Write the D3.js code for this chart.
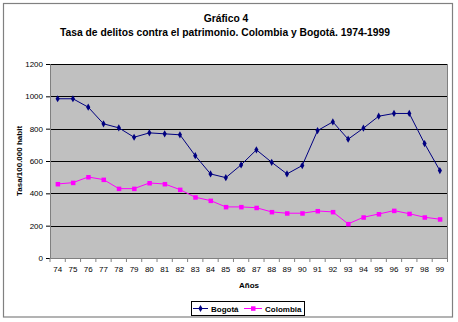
<!DOCTYPE html>
<html><head><meta charset="utf-8">
<script src="https://cdn.jsdelivr.net/npm/d3@7"></script>
<style>body{margin:0;background:#fff}svg{display:block;font-family:"Liberation Sans",Arial,sans-serif}</style>
</head><body><svg id="c" width="458" height="322"></svg>
<script>
const years = ["74","75","76","77","78","79","80","81","82","83","84","85","86","87","88","89","90","91","92","93","94","95","96","97","98","99"];
const bogota = [985,985,933,830,805,747,774,768,762,633,520,497,576,669,592,520,572,788,842,735,803,877,894,894,708,541];
const colombia = [458,466,501,485,429,429,464,458,423,376,355,316,316,311,285,277,277,291,285,211,252,272,293,274,252,240];
const yTicks = [0,200,400,600,800,1000,1200];
const titleLines = ["Gráfico 4","Tasa de delitos contra el patrimonio. Colombia y Bogotá. 1974-1999"];

const svg = d3.select("#c");
const L=50, R=447.5, T=64, B=258;
svg.append("rect").attr("x",3.5).attr("y",3.5).attr("width",449).attr("height",313.5).attr("fill","#fff").attr("stroke","#808080").attr("stroke-width",1.2);

const x = d3.scaleBand().domain(years).range([L,R]).padding(0);
const y = d3.scaleLinear().domain([0,1200]).range([B,T]);

svg.append("rect").attr("x",L).attr("y",T).attr("width",R-L).attr("height",B-T).attr("fill","#c0c0c0");
svg.append("g").selectAll("line").data(yTicks.filter(d=>d>0)).join("line")
  .attr("x1",L).attr("x2",R).attr("y1",d=>Math.round(y(d))+0.5).attr("y2",d=>Math.round(y(d))+0.5)
  .attr("stroke","#000").attr("stroke-width",1);
svg.append("line").attr("x1",R).attr("x2",R).attr("y1",T).attr("y2",B).attr("stroke","#808080");

// axes
const yAxis = d3.axisLeft(y).tickValues(yTicks).tickFormat(d3.format("d")).tickSize(4).tickPadding(3);
const gy = svg.append("g").attr("transform",`translate(${L},0)`).call(yAxis);
gy.selectAll("text").attr("font-size","8px").attr("fill","#000").attr("font-family","Liberation Sans, Arial, sans-serif");
gy.select(".domain").attr("stroke","#808080");

const xAxis = d3.axisBottom(x).tickSize(0).tickPadding(8);
const gx = svg.append("g").attr("transform",`translate(0,${B})`).call(xAxis);
gx.selectAll("text").attr("font-size","8px").attr("fill","#000").attr("font-family","Liberation Sans, Arial, sans-serif");
gx.select(".domain").attr("stroke","#808080");
const bounds = years.map(d=>x(d)).concat([R]);
gx.selectAll(".bt").data(bounds).join("line").attr("class","bt")
  .attr("x1",d=>d).attr("x2",d=>d).attr("y1",0).attr("y2",4).attr("stroke","#808080");

// lines
const line = d3.line().x((d,i)=>x(years[i])+x.bandwidth()/2).y(d=>y(d));
svg.append("path").datum(bogota).attr("d",line).attr("fill","none").attr("stroke","#000080").attr("stroke-width",1);
svg.append("path").datum(colombia).attr("d",line).attr("fill","none").attr("stroke","#ff00ff").attr("stroke-width",1);
const diamond = d3.symbol().type(d3.symbolDiamond).size(15);
svg.append("g").selectAll("path").data(bogota).join("path")
  .attr("d",diamond).attr("transform",(d,i)=>`translate(${x(years[i])+x.bandwidth()/2},${y(d)})`).attr("fill","#000080");
svg.append("g").selectAll("rect").data(colombia).join("rect")
  .attr("x",(d,i)=>x(years[i])+x.bandwidth()/2-2).attr("y",d=>y(d)-2).attr("width",4.5).attr("height",4.5).attr("fill","#ff00ff");

// titles
svg.append("text").attr("x",226).attr("y",22).attr("text-anchor","middle").attr("font-size","10.3px").attr("font-weight","bold").text(titleLines[0]);
svg.append("text").attr("x",225).attr("y",36).attr("text-anchor","middle").attr("font-size","10.3px").attr("font-weight","bold").text(titleLines[1]);
svg.append("text").attr("x",249).attr("y",288).attr("text-anchor","middle").attr("font-size","8px").attr("font-weight","bold").text("Años");
svg.append("text").attr("transform","translate(22,161) rotate(-90)").attr("text-anchor","middle").attr("font-size","8px").attr("font-weight","bold").text("Tasa/100.000 habit");

// legend
const lg = svg.append("g");
lg.append("rect").attr("x",191.5).attr("y",301.5).attr("width",113).attr("height",14).attr("fill","#fff").attr("stroke","#000");
lg.append("line").attr("x1",193).attr("x2",208).attr("y1",308.5).attr("y2",308.5).attr("stroke","#000080");
lg.append("path").attr("d",diamond).attr("transform","translate(200.5,308.5)").attr("fill","#000080");
lg.append("text").attr("x",211).attr("y",311.5).attr("font-size","8px").attr("font-weight","bold").text("Bogotá");
lg.append("line").attr("x1",244).attr("x2",262).attr("y1",308.5).attr("y2",308.5).attr("stroke","#ff00ff");
lg.append("rect").attr("x",251).attr("y",306.3).attr("width",4.5).attr("height",4.5).attr("fill","#ff00ff");
lg.append("text").attr("x",265).attr("y",311.5).attr("font-size","8px").attr("font-weight","bold").text("Colombia");
</script></body></html>
